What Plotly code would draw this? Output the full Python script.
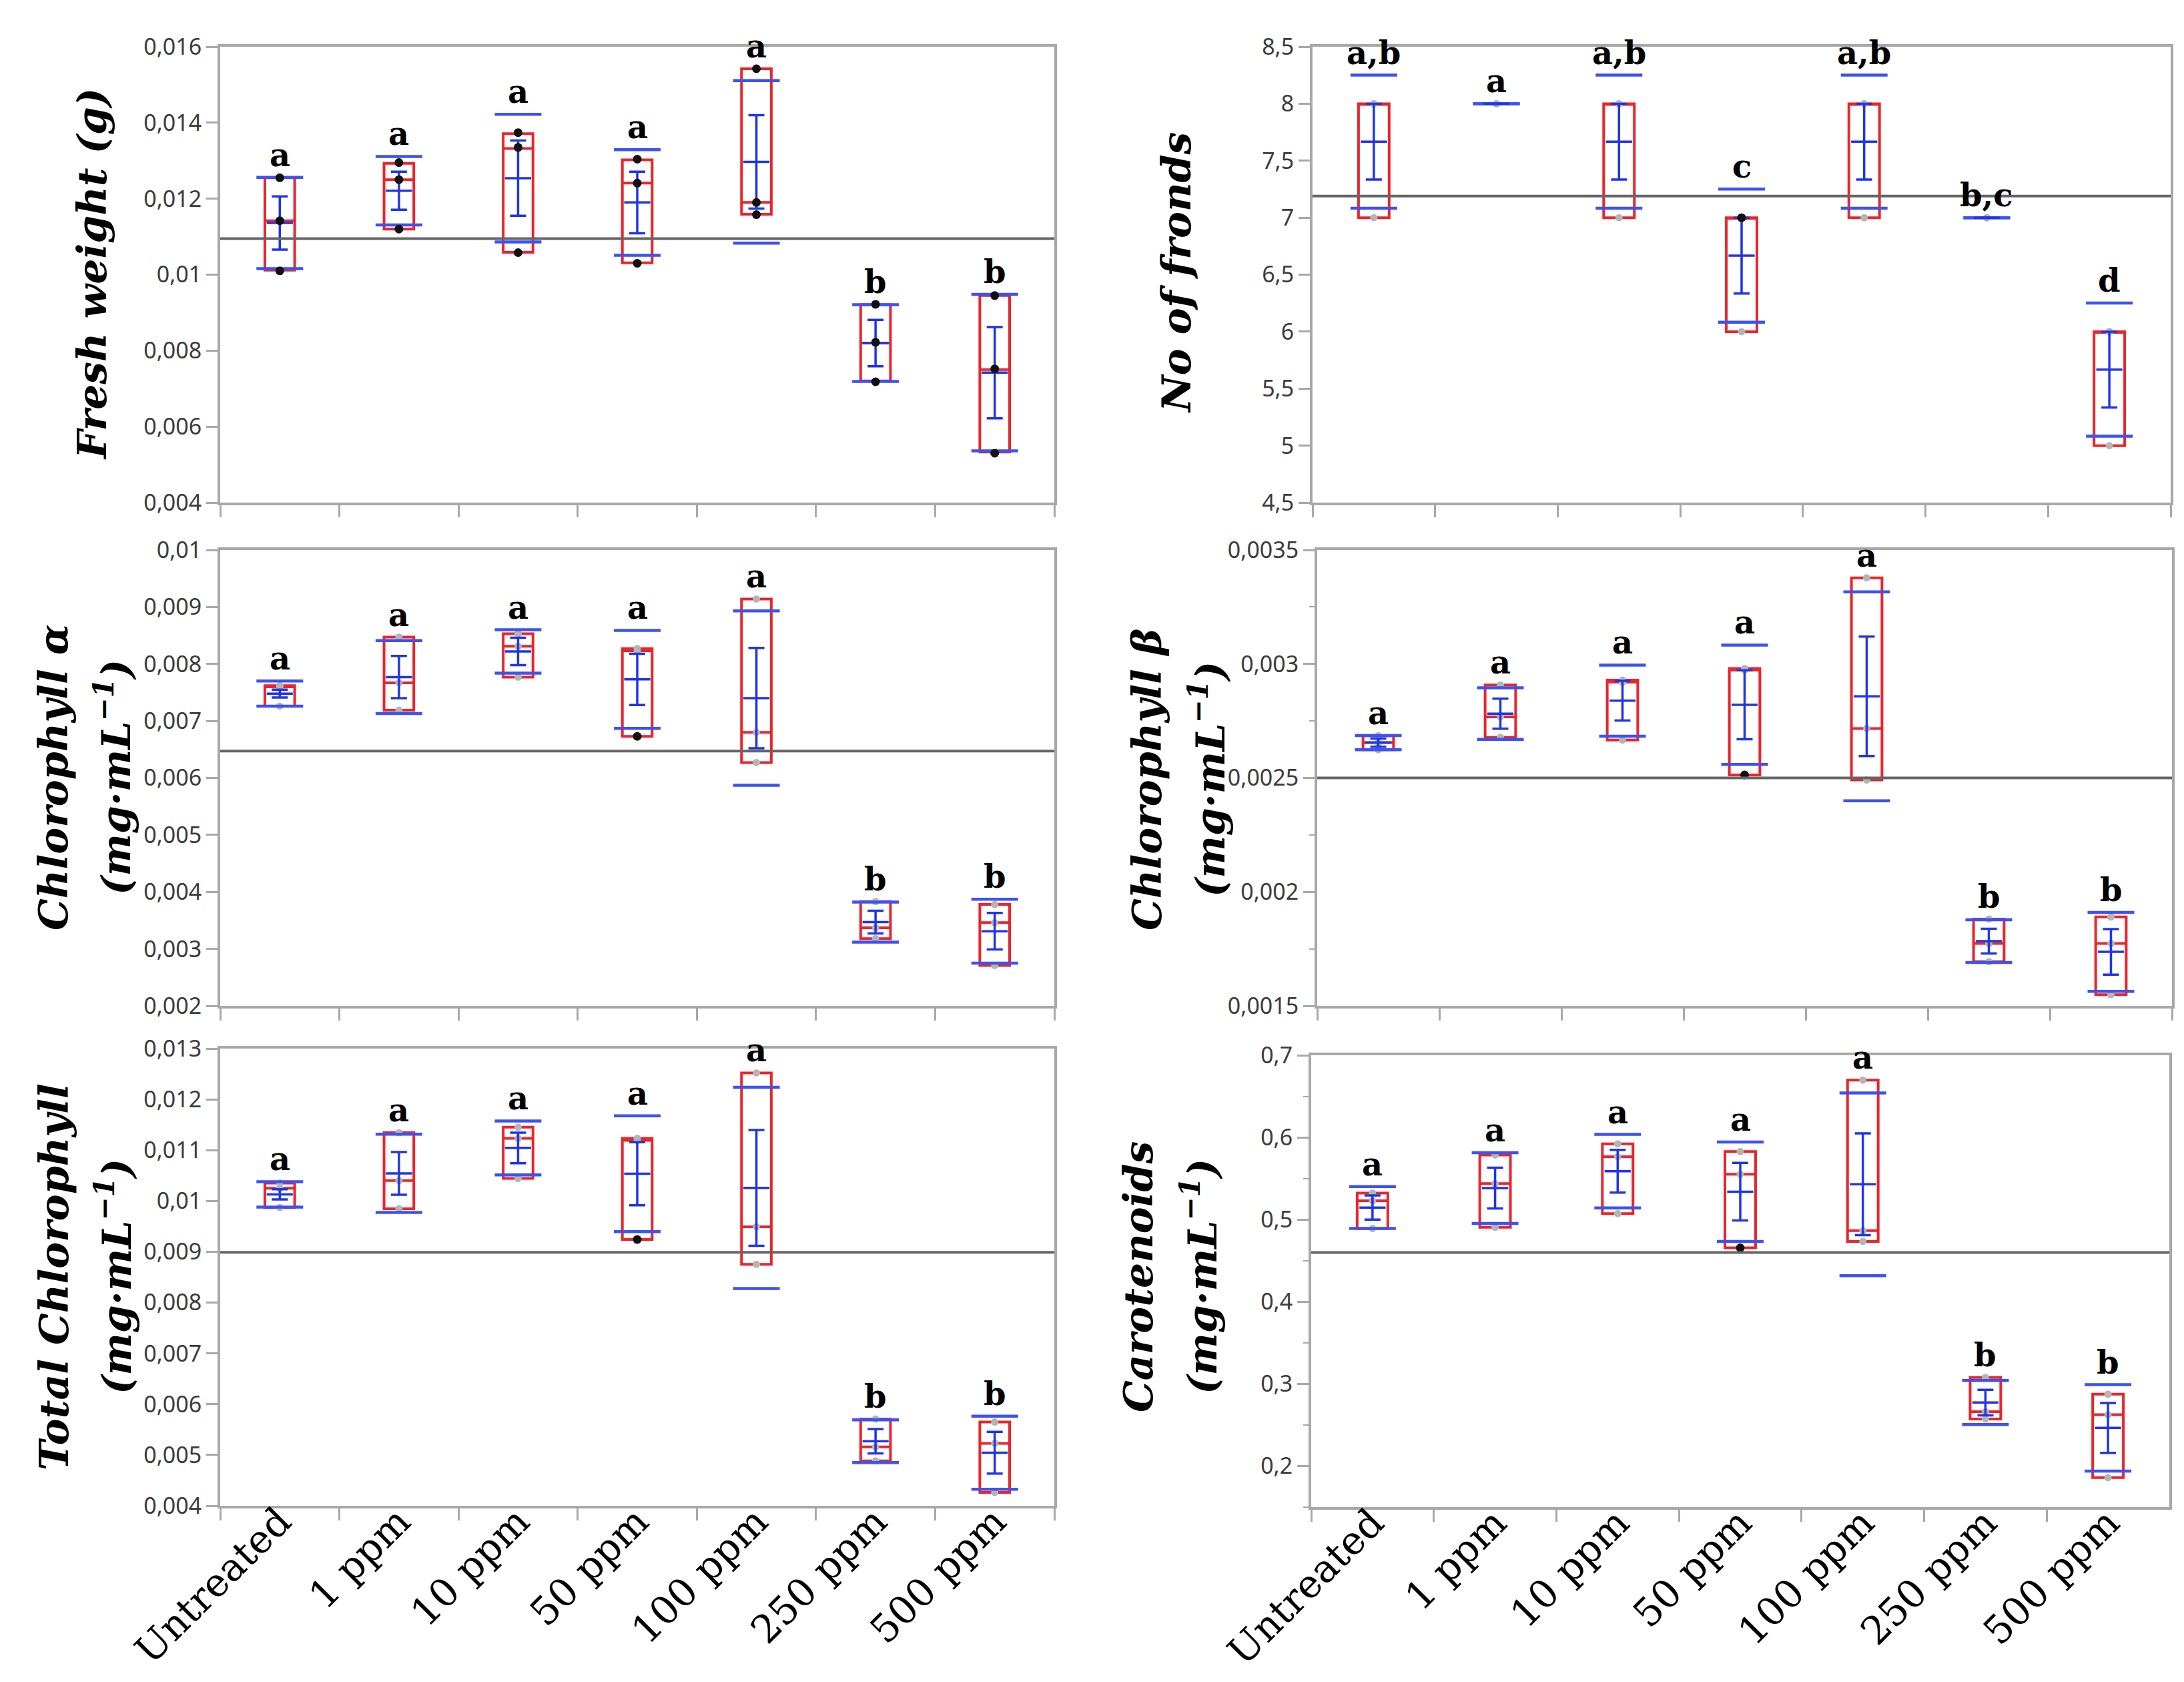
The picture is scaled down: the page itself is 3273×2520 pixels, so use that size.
import plotly.graph_objects as go
from plotly.subplots import make_subplots

cats = ["Untreated", "1 ppm", "10 ppm", "50 ppm", "100 ppm", "250 ppm", "500 ppm"]

# ---------------- Fresh weight (g) ----------------
fw_lo   = [0.01012, 0.01120, 0.01059, 0.01031, 0.01159, 0.00720, 0.00533]
fw_med  = [0.01142, 0.01250, 0.01332, 0.01241, 0.01190, 0.00820, 0.00750]
fw_hi   = [0.01255, 0.01293, 0.01371, 0.01302, 0.01542, 0.00921, 0.00945]
fw_mean = [0.01136, 0.01221, 0.01254, 0.01190, 0.01297, 0.00820, 0.00742]
fw_se   = [0.00070, 0.00050, 0.00099, 0.00081, 0.00123, 0.00061, 0.00120]
fw_sd   = [0.00120, 0.00090, 0.00168, 0.00139, 0.00214, 0.00101, 0.00206]
fw_pts_grey  = [[], [], [], [], [], [], []]
fw_pts_black = [[0.01255, 0.01142, 0.01010], [0.01295, 0.01250, 0.01120],
                [0.01374, 0.01335, 0.01058], [0.01304, 0.01241, 0.01030],
                [0.01542, 0.01190, 0.01158], [0.00922, 0.00822, 0.00718],
                [0.00945, 0.00752, 0.00530]]
fw_letters = ["a", "a", "a", "a", "a", "b", "b"]
fw_grand_mean = 0.01095

# ---------------- No of fronds ----------------
fr_lo   = [7, 8, 7, 6, 7, 7, 5]
fr_med  = [8, 8, 8, 7, 8, 7, 6]
fr_hi   = [8, 8, 8, 7, 8, 7, 6]
fr_mean = [7.667, 8, 7.667, 6.667, 7.667, 7, 5.667]
fr_se   = [0.333, 0, 0.333, 0.333, 0.333, 0, 0.333]
fr_sd   = [0.584, 0, 0.584, 0.584, 0.584, 0, 0.584]
fr_pts_grey  = [[7, 8, 8], [8, 8, 8], [7, 8, 8], [6], [7, 8, 8], [7, 7, 7], [5, 6, 6]]
fr_pts_black = [[], [], [], [7], [], [], []]
fr_letters = ["a,b", "a", "a,b", "c", "a,b", "b,c", "d"]
fr_grand_mean = 7.19

# ---------------- Chlorophyll a ----------------
ca_lo   = [0.00726, 0.00719, 0.00777, 0.00673, 0.00627, 0.00318, 0.00271]
ca_med  = [0.00760, 0.00767, 0.00831, 0.00823, 0.00680, 0.00337, 0.00346]
ca_hi   = [0.00762, 0.00847, 0.00853, 0.00827, 0.00914, 0.00383, 0.00378]
ca_mean = [0.00748, 0.00777, 0.00822, 0.00773, 0.00740, 0.00347, 0.00331]
ca_se   = [0.00007, 0.00037, 0.00024, 0.00045, 0.00088, 0.00020, 0.00032]
ca_sd   = [0.00022, 0.00064, 0.00038, 0.00086, 0.00153, 0.00035, 0.00056]
ca_pts_grey  = [[0.00726, 0.00760, 0.00762], [0.00719, 0.00767, 0.00847],
                [0.00777, 0.00831, 0.00853], [0.00823, 0.00827],
                [0.00627, 0.00680, 0.00914], [0.00318, 0.00337, 0.00383],
                [0.00271, 0.00346, 0.00378]]
ca_pts_black = [[], [], [], [0.00673], [], [], []]
ca_letters = ["a", "a", "a", "a", "a", "b", "b"]
ca_grand_mean = 0.00647

# ---------------- Chlorophyll b ----------------
cb_lo   = [0.002624, 0.002678, 0.002666, 0.002513, 0.002491, 0.001694, 0.001549]
cb_med  = [0.002655, 0.002768, 0.002920, 0.002973, 0.002717, 0.001774, 0.001774]
cb_hi   = [0.002685, 0.002908, 0.002929, 0.002980, 0.003378, 0.001881, 0.001890]
cb_mean = [0.002655, 0.002782, 0.002839, 0.002821, 0.002858, 0.001784, 0.001737]
cb_se   = [0.000018, 0.000066, 0.000087, 0.000151, 0.000262, 0.000054, 0.000100]
cb_sd   = [0.000031, 0.000113, 0.000156, 0.000262, 0.000458, 0.000094, 0.000173]
cb_pts_grey  = [[0.002624, 0.002655, 0.002685], [0.002678, 0.002768, 0.002908],
                [0.002666, 0.002920, 0.002929], [0.002973, 0.002980],
                [0.002491, 0.002717, 0.003378], [0.001694, 0.001774, 0.001881],
                [0.001549, 0.001774, 0.001890]]
cb_pts_black = [[], [], [], [0.002513], [], [], []]
cb_letters = ["a", "a", "a", "a", "a", "b", "b"]
cb_grand_mean = 0.0025

# ---------------- Total chlorophyll ----------------
tc_lo   = [0.009871, 0.009846, 0.010443, 0.009241, 0.008753, 0.004884, 0.004262]
tc_med  = [0.010250, 0.010401, 0.011234, 0.011192, 0.009493, 0.005161, 0.005229]
tc_hi   = [0.010351, 0.011343, 0.011452, 0.011234, 0.012521, 0.005708, 0.005649]
tc_mean = [0.010130, 0.010544, 0.011045, 0.010536, 0.010258, 0.005270, 0.005044]
tc_se   = [0.00010, 0.00042, 0.00030, 0.00062, 0.00114, 0.00024, 0.00041]
tc_sd   = [0.00025, 0.00077, 0.00053, 0.00114, 0.00198, 0.00042, 0.00072]
tc_pts_grey  = [[0.009871, 0.010250, 0.010351], [0.009846, 0.010401, 0.011343],
                [0.010443, 0.011234, 0.011452], [0.011192, 0.011234],
                [0.008753, 0.009493, 0.012521], [0.004884, 0.005161, 0.005708],
                [0.004262, 0.005229, 0.005649]]
tc_pts_black = [[], [], [], [0.009241], [], [], []]
tc_letters = ["a", "a", "a", "a", "a", "b", "b"]
tc_grand_mean = 0.00899

# ---------------- Carotenoids ----------------
cr_lo   = [0.4891, 0.4906, 0.5073, 0.4656, 0.4734, 0.2573, 0.1859]
cr_med  = [0.5229, 0.5438, 0.5766, 0.5552, 0.4865, 0.2661, 0.2625]
cr_hi   = [0.5323, 0.5786, 0.5922, 0.5828, 0.6698, 0.3078, 0.2875]
cr_mean = [0.5146, 0.5383, 0.5589, 0.5339, 0.5430, 0.2773, 0.2464]
cr_se   = [0.0147, 0.0248, 0.0260, 0.0350, 0.0620, 0.0155, 0.0304]
cr_sd   = [0.0255, 0.0430, 0.0448, 0.0605, 0.1112, 0.0268, 0.0526]
cr_pts_grey  = [[0.4891, 0.5229, 0.5323], [0.4906, 0.5438, 0.5786],
                [0.5073, 0.5766, 0.5922], [0.5552, 0.5828],
                [0.4734, 0.4865, 0.6698], [0.2573, 0.2661, 0.3078],
                [0.1859, 0.2625, 0.2875]]
cr_pts_black = [[], [], [], [0.4656], [], [], []]
cr_letters = ["a", "a", "a", "a", "a", "b", "b"]
cr_grand_mean = 0.46

# ---------------- layout / styles ----------------
W, H = 3273, 2520
RED = "#e8262c"
BLUE = "#1f35e6"
BLUE_SD = "#3d52f2"
AXIS = "#a8a8a8"
GM = "#666666"
TICKFONT = dict(family="Noto Sans", size=34, color="#3c3c3c")
SERIF = "DejaVu Serif"

panels = [
    dict(row=1, col=1, lo=fw_lo, med=fw_med, hi=fw_hi, mean=fw_mean, se=fw_se, sd=fw_sd,
         grey=fw_pts_grey, black=fw_pts_black, letters=fw_letters, gm=fw_grand_mean,
         rng=[0.004, 0.016], dtick=0.002, tick0=0, minor=None, px=(322, 1572, 62, 745)),
    dict(row=1, col=2, lo=fr_lo, med=fr_med, hi=fr_hi, mean=fr_mean, se=fr_se, sd=fr_sd,
         grey=fr_pts_grey, black=fr_pts_black, letters=fr_letters, gm=fr_grand_mean,
         rng=[4.5, 8.5], dtick=0.5, tick0=0, minor=None, px=(1959, 3245, 62, 745)),
    dict(row=2, col=1, lo=ca_lo, med=ca_med, hi=ca_hi, mean=ca_mean, se=ca_se, sd=ca_sd,
         grey=ca_pts_grey, black=ca_pts_black, letters=ca_letters, gm=ca_grand_mean,
         rng=[0.002, 0.010], dtick=0.001, tick0=0, minor=None, px=(322, 1572, 816, 1499)),
    dict(row=2, col=2, lo=cb_lo, med=cb_med, hi=cb_hi, mean=cb_mean, se=cb_se, sd=cb_sd,
         grey=cb_pts_grey, black=cb_pts_black, letters=cb_letters, gm=cb_grand_mean,
         rng=[0.0015, 0.0035], dtick=0.0005, tick0=0, minor=0.00025, px=(1966, 3247, 816, 1499)),
    dict(row=3, col=1, lo=tc_lo, med=tc_med, hi=tc_hi, mean=tc_mean, se=tc_se, sd=tc_sd,
         grey=tc_pts_grey, black=tc_pts_black, letters=tc_letters, gm=tc_grand_mean,
         rng=[0.004, 0.013], dtick=0.001, tick0=0, minor=None, px=(322, 1572, 1563, 2248)),
    dict(row=3, col=2, lo=cr_lo, med=cr_med, hi=cr_hi, mean=cr_mean, se=cr_se, sd=cr_sd,
         grey=cr_pts_grey, black=cr_pts_black, letters=cr_letters, gm=cr_grand_mean,
         rng=[0.15, 0.7], dtick=0.1, tick0=0, minor=0.05, px=(1957, 3243, 1573, 2250)),
]

fig = make_subplots(rows=3, cols=2)


def flatten(groups):
    xs, ys = [], []
    for i, vals in enumerate(groups):
        for v in vals:
            xs.append(cats[i])
            ys.append(v)
    return xs, ys


for k, p in enumerate(panels):
    r, c = p["row"], p["col"]
    # grey raw points
    gx, gy = flatten(p["grey"])
    fig.add_trace(go.Scatter(x=gx, y=gy, mode="markers", showlegend=False,
                             marker=dict(size=11, color="#b5b5b5")), row=r, col=c)
    # SD lines (mean +/- SD)
    sd_hi = [m + s for m, s in zip(p["mean"], p["sd"])]
    sd_lo = [m - s for m, s in zip(p["mean"], p["sd"])]
    fig.add_trace(go.Scatter(x=cats + cats, y=sd_hi + sd_lo, mode="markers", showlegend=False,
                             marker=dict(symbol="line-ew", size=50, color=BLUE_SD,
                                         line=dict(width=4.5, color=BLUE_SD))), row=r, col=c)
    # mean +/- SE
    fig.add_trace(go.Scatter(x=cats, y=p["mean"], mode="markers", showlegend=False,
                             marker=dict(symbol="line-ew", size=28, color=BLUE,
                                         line=dict(width=3.5, color=BLUE)),
                             error_y=dict(type="data", array=p["se"], visible=True,
                                          width=12, thickness=3.5, color=BLUE)), row=r, col=c)
    # red quantile boxes
    fig.add_trace(go.Box(x=cats, q1=p["lo"], median=p["med"], q3=p["hi"],
                         lowerfence=p["lo"], upperfence=p["hi"], width=0.25,
                         line=dict(color=RED, width=4), fillcolor="rgba(0,0,0,0)",
                         whiskerwidth=0, boxpoints=False, showlegend=False), row=r, col=c)
    # black points
    bx, by = flatten(p["black"])
    fig.add_trace(go.Scatter(x=bx, y=by, mode="markers", showlegend=False,
                             marker=dict(size=13, color="#111111")), row=r, col=c)
    # grand mean line
    fig.add_hline(y=p["gm"], row=r, col=c, line=dict(color=GM, width=4))

    # letters
    n = k + 1
    xref = "x" if n == 1 else "x%d" % n
    yref = "y" if n == 1 else "y%d" % n
    for i, letter in enumerate(p["letters"]):
        top = max(p["hi"][i], p["mean"][i] + p["sd"][i])
        fig.add_annotation(x=cats[i], y=top, xref=xref, yref=yref, text="<b>%s</b>" % letter,
                           showarrow=False, yanchor="bottom", yshift=4,
                           font=dict(family=SERIF, size=48, color="black"))

    # axes
    x0, x1, y0, y1 = p["px"]
    fig.update_xaxes(row=r, col=c, domain=[x0 / W, x1 / W], type="category",
                     categoryorder="array", categoryarray=cats, range=[-0.5, 6.5],
                     automargin=False,
                     showline=True, linecolor=AXIS, linewidth=4, mirror=True,
                     ticks="outside", tickson="boundaries", ticklen=18, tickwidth=3,
                     tickcolor=AXIS, showgrid=False, zeroline=False,
                     showticklabels=(r == 3), tickangle=-45, ticklabelstandoff=-38,
                     tickfont=dict(family=SERIF, size=58, color="black"))
    yargs = dict(domain=[1 - y1 / H, 1 - y0 / H], range=p["rng"], dtick=p["dtick"],
                 tick0=p["tick0"], automargin=False, showline=True, linecolor=AXIS,
                 linewidth=4, mirror=True,
                 ticks="outside", ticklen=17, tickwidth=3, tickcolor=AXIS, showgrid=False,
                 zeroline=False, tickfont=TICKFONT)
    if p["minor"]:
        yargs["minor"] = dict(dtick=p["minor"], ticks="outside", ticklen=8, tickwidth=2,
                              tickcolor=AXIS, showgrid=False)
    fig.update_yaxes(row=r, col=c, **yargs)

# axis titles
titles = [
    ("Fresh weight (g)", 130, 403),
    ("No of fronds", 1755, 400),
    ("Chlorophyll α", 72, 1157),
    ("(mg·mL<sup>−1</sup>)", 162, 1157),
    ("Chlorophyll β", 1711, 1160),
    ("(mg·mL<sup>−1</sup>)", 1802, 1160),
    ("Total Chlorophyll", 73, 1905),
    ("(mg·mL<sup>−1</sup>)", 163, 1905),
    ("Carotenoids", 1698, 1905),
    ("(mg·mL<sup>−1</sup>)", 1790, 1905),
]
for txt, tx, ty in titles:
    fig.add_annotation(x=tx / W, y=1 - ty / H, xref="paper", yref="paper",
                       text="<b><i>%s</i></b>" % txt, showarrow=False, textangle=-90,
                       xanchor="center", yanchor="middle",
                       font=dict(family=SERIF, size=60, color="black"))

fig.update_layout(width=W, height=H, margin=dict(l=0, r=0, t=0, b=0, autoexpand=False),
                  plot_bgcolor="white", paper_bgcolor="white", separators=", ",
                  showlegend=False)

fig.write_html("out.html")
